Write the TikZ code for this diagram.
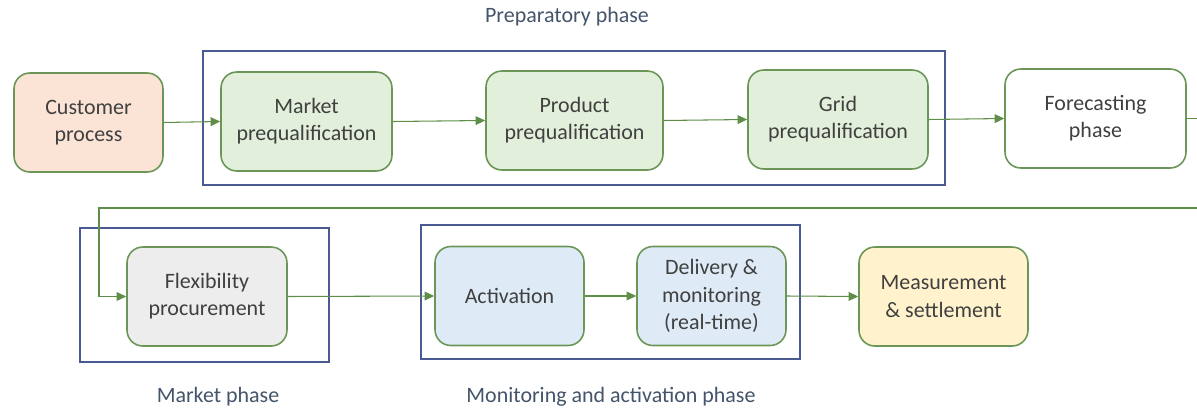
\documentclass[tikz,border=0pt]{standalone}
\usepackage{fontspec}
\setmainfont{Carlito}
\usetikzlibrary{arrows.meta}
\definecolor{boxline}{HTML}{6B9658}
\definecolor{arrowc}{HTML}{5E8E48}
\definecolor{framec}{HTML}{4A5A92}
\definecolor{labelc}{HTML}{44546A}
\definecolor{txt}{HTML}{404040}
\definecolor{fcust}{HTML}{FBE3D6}
\definecolor{fgreen}{HTML}{E2EFDA}
\definecolor{fgray}{HTML}{EDEDED}
\definecolor{fblue}{HTML}{DEEBF7}
\definecolor{fyellow}{HTML}{FFF2CC}
\tikzset{
  procbox/.style={draw=boxline, line width=0.9pt, rounded corners=9pt, text=txt,
    font=\fontsize{12.5pt}{15.5pt}\selectfont, align=center, inner sep=0pt,
    minimum height=1.98cm},
  phaseframe/.style={draw=framec, line width=0.9pt},
  phaselabel/.style={text=labelc, font=\fontsize{12.5pt}{15pt}\selectfont},
  flow/.style={draw=arrowc, line width=0.6pt, -{Triangle[length=5.5pt,width=5pt]}},
}
\begin{document}
\begin{tikzpicture}[x=0.02cm,y=-0.02cm]
\useasboundingbox (0,0) rectangle (1197,409);
\clip (0,0) rectangle (1197,409);
% frames
\draw[phaseframe] (203,51) rectangle (945,185);
\draw[phaseframe] (80,228) rectangle (329,362);
\draw[phaseframe] (421,225) rectangle (800,359);
% labels
\node[phaselabel] (lprep) at (567,17) {Preparatory phase};
\node[phaselabel] (lmkt) at (218,397) {Market phase};
\node[phaselabel] (lmon) at (611,397) {Monitoring and activation phase};
% boxes
\node[procbox, fill=fcust, minimum width=2.98cm] (cust) at (88.5,122.5) {Customer\\process};
\node[procbox, fill=fgreen, minimum width=3.42cm] (mkt) at (306.5,121.5) {Market\\prequalification};
\node[procbox, fill=fgreen, minimum width=3.54cm] (prod) at (574.5,120.5) {Product\\prequalification};
\node[procbox, fill=fgreen, minimum width=3.6cm] (grid) at (838,119.5) {Grid\\prequalification};
\node[procbox, fill=white, minimum width=3.62cm] (fore) at (1095.5,118.5) {Forecasting\\phase};
\node[procbox, fill=fgray, minimum width=3.2cm] (flex) at (207,296.5) {Flexibility\\procurement};
\node[procbox, fill=fblue, minimum width=2.98cm] (act) at (509.5,296) {Activation};
\node[procbox, fill=fblue, minimum width=2.98cm] (deliv) at (711.5,296) {Delivery \&\\monitoring\\(real-time)};
\node[procbox, fill=fyellow, minimum width=3.38cm] (meas) at (943.5,296.5) {Measurement\\\& settlement};
% connectors
\draw[flow] (cust.east) -- (mkt.west);
\draw[flow] (mkt.east) -- (prod.west);
\draw[flow] (prod.east) -- (grid.west);
\draw[flow] (grid.east) -- (fore.west);
\coordinate (r1) at (1215,118.5);
\coordinate (r2) at (1215,208);
\coordinate (l1) at (99,208);
\draw[flow] (fore.east) -- (r1) -- (r2) -- (l1) |- (flex.west);
\draw[flow] (flex.east) -- (act.west);
\draw[flow] (act.east) -- (deliv.west);
\draw[flow] (deliv.east) -- (meas.west);
\end{tikzpicture}
\end{document}
